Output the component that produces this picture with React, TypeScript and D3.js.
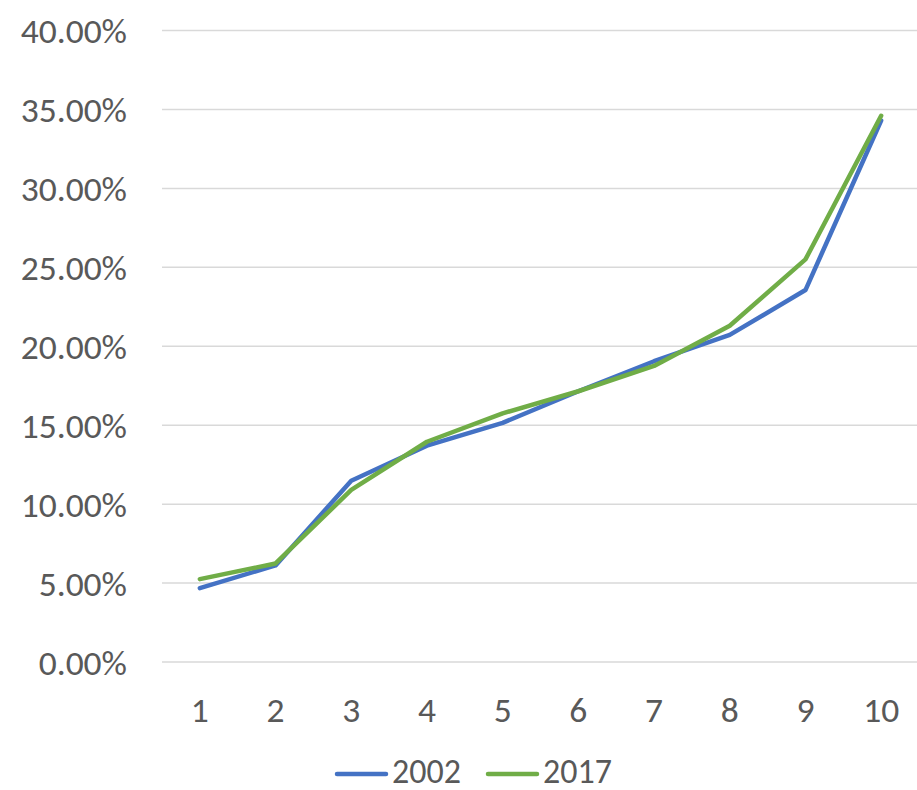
import React, { useEffect, useRef } from "react";
import * as d3 from "d3";

const deciles = [1, 2, 3, 4, 5, 6, 7, 8, 9, 10];
const values2002 = [4.68, 6.12, 11.48, 13.7, 15.15, 17.15, 19.05, 20.72, 23.56, 34.3];
const values2017 = [5.25, 6.24, 10.9, 13.95, 15.75, 17.15, 18.75, 21.3, 25.5, 34.6];
const yTicks = [0, 5, 10, 15, 20, 25, 30, 35, 40];
const seriesNames = ["2002", "2017"];
const seriesColors = ["#4472C4", "#70AD47"];

const FONT = "Carlito, Calibri, 'Liberation Sans', sans-serif";

export default function App() {
  const ref = useRef<SVGSVGElement>(null);

  useEffect(() => {
    const width = 917;
    const height = 790;
    const plot = { left: 162, right: 919, top: 30.5, bottom: 662 };

    const svg = d3.select(ref.current);
    svg.selectAll("*").remove();
    svg.attr("width", width).attr("height", height);

    const x = d3.scaleBand<number>().domain(deciles).range([plot.left, plot.right]);
    const y = d3.scaleLinear().domain([0, 40]).range([plot.bottom, plot.top]);
    const cx = (d: number) => (x(d) as number) + x.bandwidth() / 2;

    // gridlines
    svg.append("g")
      .selectAll("line")
      .data(yTicks)
      .enter()
      .append("line")
      .attr("x1", plot.left)
      .attr("x2", plot.right)
      .attr("y1", d => y(d))
      .attr("y2", d => y(d))
      .attr("stroke", "#D9D9D9")
      .attr("stroke-width", 1.5);

    // y labels
    svg.append("g")
      .selectAll("text")
      .data(yTicks)
      .enter()
      .append("text")
      .attr("x", 127)
      .attr("y", d => y(d))
      .attr("dy", "0.36em")
      .attr("text-anchor", "end")
      .style("font-family", FONT)
      .style("font-size", "35.5px")
      .attr("fill", "#595959")
      .text(d => d.toFixed(2) + "%");

    // x labels
    svg.append("g")
      .selectAll("text")
      .data(deciles)
      .enter()
      .append("text")
      .attr("x", d => cx(d))
      .attr("y", 722)
      .attr("text-anchor", "middle")
      .style("font-family", FONT)
      .style("font-size", "35.5px")
      .attr("fill", "#595959")
      .text(d => d);

    const line = d3.line<number>()
      .x((_, i) => cx(deciles[i]))
      .y(d => y(d));

    [values2002, values2017].forEach((vals, i) => {
      svg.append("path")
        .datum(vals)
        .attr("d", line)
        .attr("fill", "none")
        .attr("stroke", seriesColors[i])
        .attr("stroke-width", 4.5)
        .attr("stroke-linecap", "round")
        .attr("stroke-linejoin", "round");
    });

    // legend
    const legendX = [337, 488];
    seriesNames.forEach((name, i) => {
      const g = svg.append("g").attr("transform", `translate(${legendX[i]}, 774)`);
      g.append("line")
        .attr("x1", 0)
        .attr("x2", 49)
        .attr("stroke", seriesColors[i])
        .attr("stroke-width", 4.5)
        .attr("stroke-linecap", "round");
      g.append("text")
        .attr("x", 55)
        .attr("y", 8.5)
        .style("font-family", FONT)
        .style("font-size", "34px")
        .attr("fill", "#595959")
        .text(name);
    });
  }, []);

  return <svg ref={ref} style={{ position: "absolute", left: 0, top: 0 }} />;
}
